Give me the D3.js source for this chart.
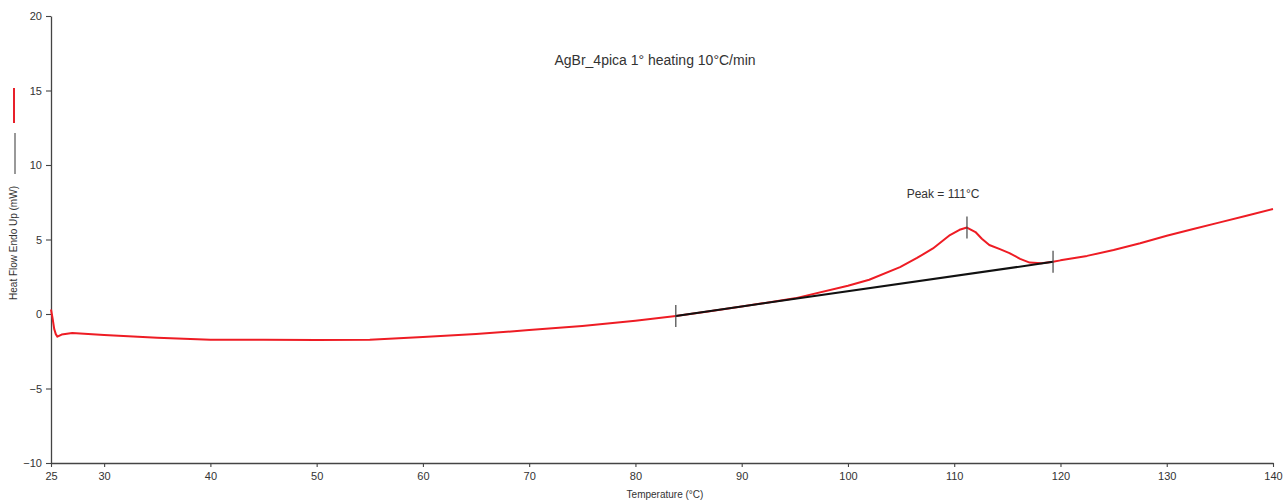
<!DOCTYPE html>
<html>
<head>
<meta charset="utf-8">
<script src="https://cdn.jsdelivr.net/npm/d3@7"></script>
<style>
  html, body { margin: 0; padding: 0; background: #fff; }
  svg { display: block; }
  text { font-family: "Liberation Sans", Arial, sans-serif; fill: #333; }
</style>
</head>
<body>
<svg id="chart" width="1285" height="502"></svg>
<script>
// DSC heating scan: temperature (°C) vs heat flow (mW)
const temperature = [25.0, 25.15, 25.3, 25.45, 25.6, 26.0, 27.0, 30.0, 35.0, 40.0, 45.0, 50.0, 55.0, 60.0, 65.0, 70.0, 75.0, 80.0, 83.8, 87.0, 90.0, 95.0, 100.0, 102.0, 104.9, 106.5, 108.0, 109.6, 110.5, 111.2, 112.0, 112.6, 113.3, 114.3, 115.2, 116.2, 117.1, 118.2, 119.3, 120.0, 122.5, 125.0, 127.5, 130.0, 132.5, 135.0, 137.5, 140.0];
const heatFlow    = [0.3,  -0.3,  -1.0,  -1.35, -1.52, -1.38, -1.28, -1.41, -1.6, -1.72, -1.73, -1.74, -1.72, -1.55, -1.35, -1.08, -0.8, -0.45, -0.13, 0.18, 0.5, 1.05, 1.9, 2.3, 3.15, 3.76, 4.4, 5.3, 5.65, 5.8, 5.5, 5.05, 4.63, 4.35, 4.09, 3.7, 3.45, 3.4, 3.5, 3.6, 3.9, 4.3, 4.75, 5.25, 5.7, 6.15, 6.6, 7.05];

// Integration baseline and marker positions
const baselineTemp = [83.8, 119.3];
const baselineFlow = [-0.13, 3.5];
const markerTemp = [83.8, 111.2, 119.3];
const markerFlow = [-0.13, 5.8, 3.5];

const xTicks = [25, 30, 40, 50, 60, 70, 80, 90, 100, 110, 120, 130, 140];
const yTicks = [-10, -5, 0, 5, 10, 15, 20];

const titleText = "AgBr_4pica 1° heating 10°C/min";
const peakText = "Peak = 111°C";
const xLabel = "Temperature (°C)";
const yLabel = "Heat Flow Endo Up (mW)";

const svg = d3.select("#chart");
const plotLeft = 51, plotRight = 1273, plotTop = 16, plotBottom = 463;

const x = d3.scaleLinear().domain([25, 140]).range([plotLeft, plotRight]);
const y = d3.scaleLinear().domain([-10, 20]).range([plotBottom, plotTop]);

// Axes
const xAxis = d3.axisBottom(x).tickValues(xTicks).tickSize(4).tickPadding(5).tickSizeOuter(0);
const yAxis = d3.axisLeft(y).tickValues(yTicks).tickSize(5).tickPadding(4).tickSizeOuter(0);

const gx = svg.append("g").attr("transform", `translate(0,${plotBottom})`).call(xAxis);
const gy = svg.append("g").attr("transform", `translate(${plotLeft},0)`).call(yAxis);
[gx, gy].forEach(g => {
  g.select(".domain").attr("stroke", "#444").attr("stroke-width", 1.3);
  g.selectAll(".tick line").attr("stroke", "#444").attr("stroke-width", 1.1);
  g.selectAll(".tick text").attr("font-size", 11).attr("fill", "#333")
    .style("font-family", "'Liberation Sans', Arial, sans-serif");
});

// Title and axis labels
svg.append("text").attr("x", 655).attr("y", 65).attr("text-anchor", "middle")
  .attr("font-size", 14).attr("fill", "#444").text(titleText);
svg.append("text").attr("x", 665).attr("y", 498).attr("text-anchor", "middle")
  .attr("font-size", 10).text(xLabel);
svg.append("text").attr("transform", "translate(17,243) rotate(-90)").attr("text-anchor", "middle")
  .attr("font-size", 10).text(yLabel);

// Series key markers beside the axis title
svg.append("line").attr("x1", 14).attr("x2", 14).attr("y1", 88).attr("y2", 123)
  .attr("stroke", "#e8202a").attr("stroke-width", 2);
svg.append("line").attr("x1", 15).attr("x2", 15).attr("y1", 133).attr("y2", 174)
  .attr("stroke", "#555").attr("stroke-width", 1.2);

// Heat flow curve
const line = d3.line().x((d, i) => x(temperature[i])).y(d => y(d));
svg.append("path").datum(heatFlow).attr("d", line)
  .attr("fill", "none").attr("stroke", "#ee1c24").attr("stroke-width", 2)
  .attr("stroke-linejoin", "round");

// Baseline
svg.append("path").datum(baselineFlow)
  .attr("d", d3.line().x((d, i) => x(baselineTemp[i])).y(d => y(d)))
  .attr("fill", "none").attr("stroke", "#111").attr("stroke-width", 2);

// Onset / peak / end markers
svg.selectAll(".marker").data(markerTemp).enter().append("line")
  .attr("x1", d => x(d)).attr("x2", d => x(d))
  .attr("y1", (d, i) => y(markerFlow[i]) - 11).attr("y2", (d, i) => y(markerFlow[i]) + 11)
  .attr("stroke", "#444").attr("stroke-width", 1.2);

// Peak annotation
svg.append("text").attr("x", 943).attr("y", 198).attr("text-anchor", "middle")
  .attr("font-size", 12).text(peakText);
</script>
</body>
</html>
